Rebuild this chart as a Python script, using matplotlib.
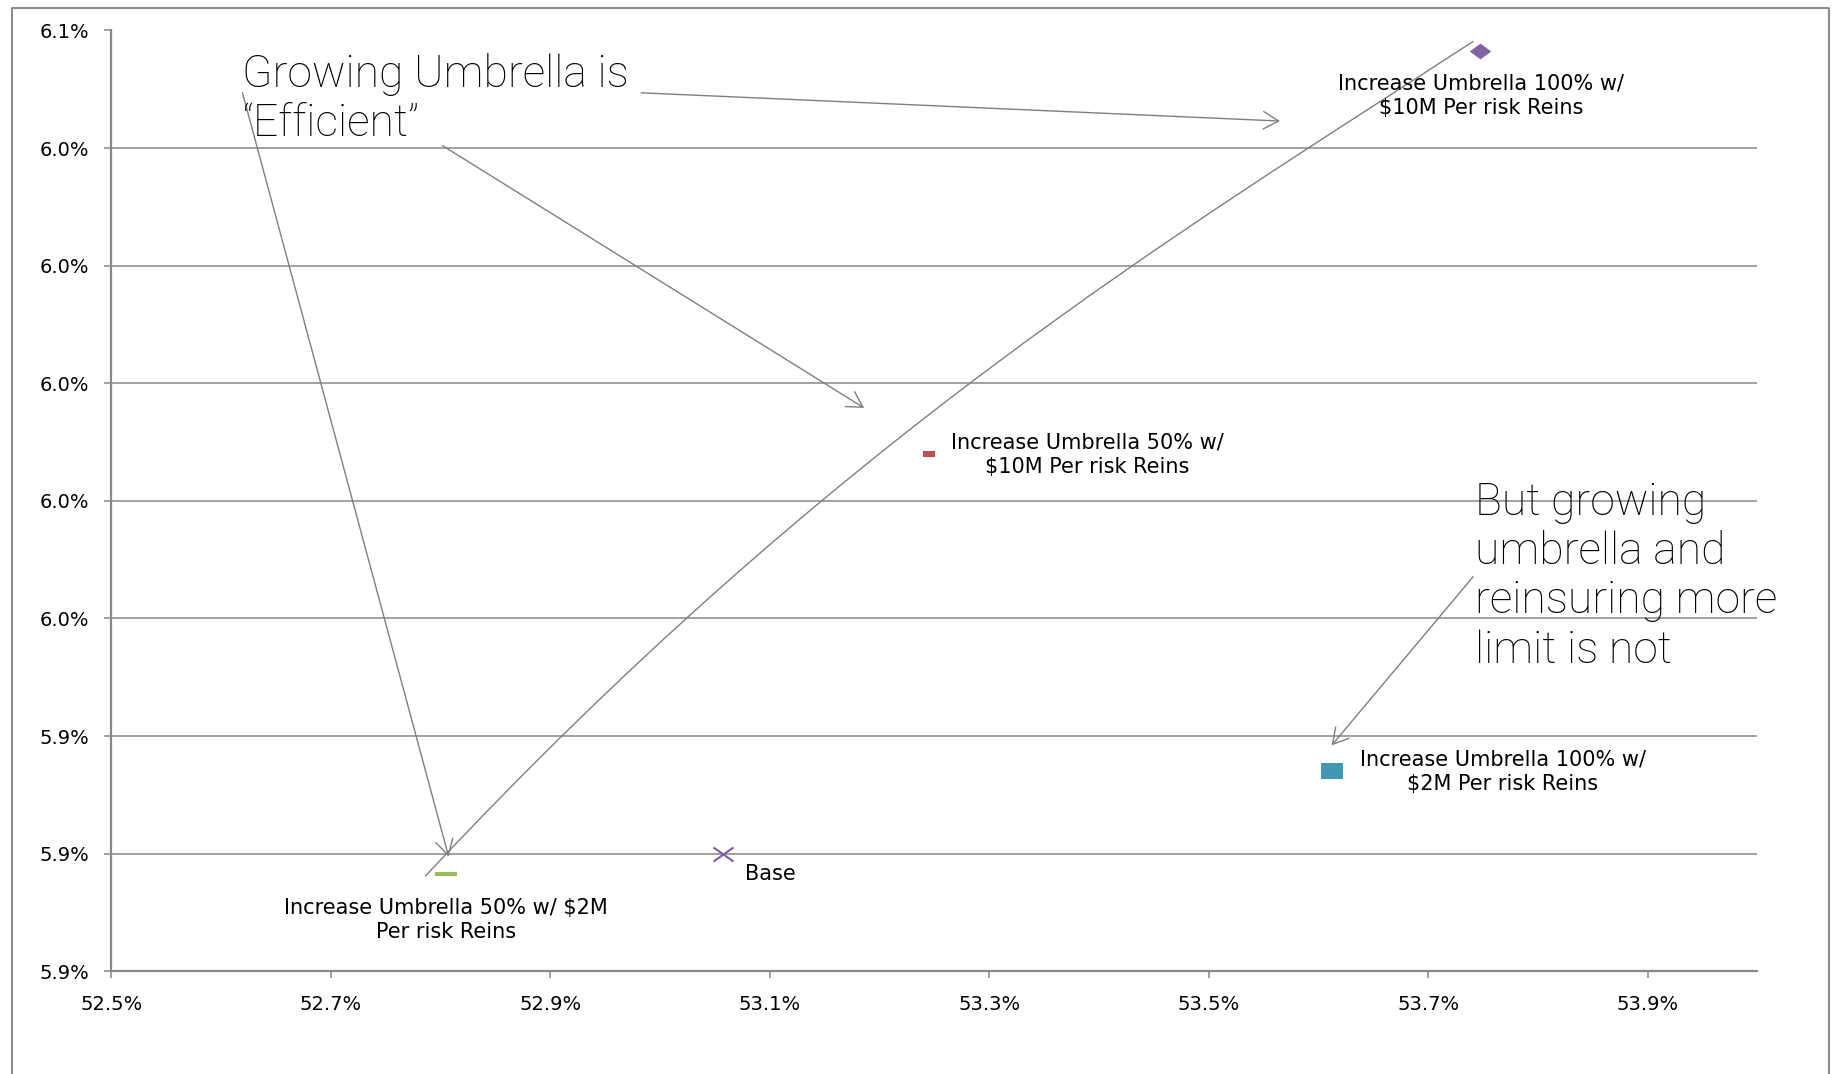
import matplotlib
matplotlib.use("Agg")
import matplotlib.pyplot as plt
from matplotlib.path import Path
from matplotlib.patches import FancyArrowPatch, PathPatch
from matplotlib.lines import Line2D
from matplotlib.ticker import FixedLocator, FuncFormatter

# Scenario results: combined ratio (%) vs. return (%)
scenario_labels = [
    "Increase Umbrella 100% w/\n$10M Per risk Reins",
    "Increase Umbrella 50% w/\n$10M Per risk Reins",
    "Increase Umbrella 100% w/\n$2M Per risk Reins",
    "Base",
    "Increase Umbrella 50% w/ $2M\nPer risk Reins",
]
combined_ratio = [53.747, 53.245, 53.612, 53.057, 52.805]
return_pct = [6.0565, 5.9880, 5.9340, 5.9200, 5.9165]
marker_colors = ["#8064A2", "#C0504D", "#4198B5", "#7B5EA0", "#9BBB59"]

x_ticks = [52.5, 52.7, 52.9, 53.1, 53.3, 53.5, 53.7, 53.9]
y_ticks = [5.90, 5.92, 5.94, 5.96, 5.98, 6.00, 6.02, 6.04, 6.06]

note_efficient = "Growing Umbrella is\n\u201cEfficient\u201d"
note_not = "But growing\numbrella and\nreinsuring more\nlimit is not"

W, H = 1837, 1074
GRID = "#878787"
ARROW = "#7f7f7f"

fig = plt.figure(figsize=(W / 100, H / 100), dpi=100)
fig.patch.set_facecolor("white")

# outer chart frame (open at the bottom)
fig.add_artist(Line2D([12 / W, 12 / W, 1829 / W, 1829 / W],
                      [0, 1 - 8 / H, 1 - 8 / H, 0],
                      transform=fig.transFigure, color="#8c8c8c", lw=1.5))

left, right, top, bottom = 111.3, 1757.4, 30.5, 971.2
ax = fig.add_axes([left / W, 1 - bottom / H, (right - left) / W, (bottom - top) / H])
ax.set_xlim(52.5, 54.0)
ax.set_ylim(5.90, 6.06)

for s in ("top", "right"):
    ax.spines[s].set_visible(False)
for s in ("left", "bottom"):
    ax.spines[s].set_color(GRID)
    ax.spines[s].set_linewidth(1.6)

ax.xaxis.set_major_locator(FixedLocator(x_ticks))
ax.yaxis.set_major_locator(FixedLocator(y_ticks))
ax.xaxis.set_major_formatter(FuncFormatter(lambda v, p: f"{v:.1f}%"))
ax.yaxis.set_major_formatter(FuncFormatter(lambda v, p: f"{v:.1f}%"))
ax.tick_params(axis="both", direction="out", length=5, width=1.1, color=GRID,
               labelsize=14, labelcolor="black")
ax.tick_params(axis="x", pad=12)
ax.tick_params(axis="y", pad=11)
ax.grid(axis="y", color=GRID, lw=1.1)
ax.set_axisbelow(True)

# marker shapes
diamond = Path([(-1, 0), (0, 0.73), (1, 0), (0, -0.73), (-1, 0)],
               [Path.MOVETO, Path.LINETO, Path.LINETO, Path.LINETO, Path.CLOSEPOLY])
def rect(h):
    return Path([(-1, -h), (1, -h), (1, h), (-1, h), (-1, -h)],
                [Path.MOVETO, Path.LINETO, Path.LINETO, Path.LINETO, Path.CLOSEPOLY])
cross = Path([(-1, -0.7), (1, 0.7), (-1, 0.7), (1, -0.7)],
             [Path.MOVETO, Path.LINETO, Path.MOVETO, Path.LINETO])

marker_specs = [
    dict(marker=diamond, ms=15.5, mew=0),
    dict(marker=rect(0.42), ms=8.6, mew=0),
    dict(marker=rect(0.75), ms=15.8, mew=0),
    dict(marker=cross, ms=14.4, mew=1.5, mfc="none"),
    dict(marker=rect(0.2), ms=15.8, mew=0),
]
for x, y, c, spec in zip(combined_ratio, return_pct, marker_colors, marker_specs):
    ax.plot([x], [y], linestyle="none", color=c, mec=c, **spec, zorder=4)

# point labels
label_offsets = [(1, -45), (22, -1), (28, 0), (22, -20), (0, -46)]
label_align = ["center", "left", "left", "left", "center"]
for x, y, txt, off, ha in zip(combined_ratio, return_pct, scenario_labels,
                              label_offsets, label_align):
    ax.annotate(txt, (x, y), xytext=off, textcoords="offset pixels",
                ha=ha, va="center", multialignment="center",
                fontsize=15, family="DejaVu Sans", linespacing=1.28,
                parse_math=False, zorder=5)

# call-out notes
ax.text(52.6195, 6.0562, note_efficient, ha="left", va="top",
        family="Roboto", fontweight="light", fontsize=32, linespacing=1.2,
        zorder=5)
ax.text(53.7431, 5.9833, note_not, ha="left", va="top",
        family="Roboto", fontweight="light", fontsize=32, linespacing=1.2,
        zorder=5, clip_on=False)

def arrow(p0, p1):
    a = FancyArrowPatch(p0, p1, arrowstyle="->,head_length=11,head_width=6.3",
                        mutation_scale=1, color=ARROW, lw=1.0,
                        shrinkA=0, shrinkB=0, zorder=3)
    ax.add_patch(a)

arrow((52.6195, 6.0494), (52.8074, 5.9195))
arrow((52.802, 6.0404), (53.186, 5.9958))
arrow((52.983, 6.0494), (53.565, 6.0446))
arrow((53.741, 5.9671), (53.612, 5.9384))

# curved connector across the chart
curve = Path([(52.786, 5.91614), (53.1595, 5.99074), (53.4744, 6.02579), (53.7411, 6.05816)],
             [Path.MOVETO, Path.CURVE4, Path.CURVE4, Path.CURVE4])
ax.add_patch(PathPatch(curve, fill=False, edgecolor=ARROW, lw=1.0, zorder=3))

fig.savefig("out.png", dpi=100)
